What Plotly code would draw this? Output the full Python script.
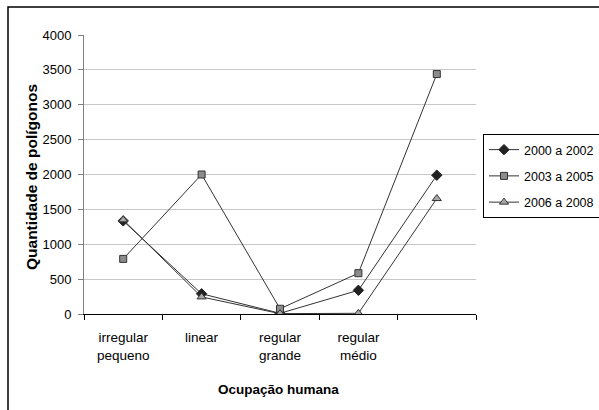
import plotly.graph_objects as go

categories = ["irregular<br>pequeno", "linear", "regular<br>grande", "regular<br>médio", " "]
series_names = ["2000 a 2002", "2003 a 2005", "2006 a 2008"]
s2000 = [1335, 290, 10, 340, 1990]
s2003 = [790, 2000, 75, 585, 3440]
s2006 = [1350, 245, 5, 10, 1655]
y_ticks = [0, 500, 1000, 1500, 2000, 2500, 3000, 3500, 4000]

FONT = "Liberation Sans, Arial, sans-serif"

fig = go.Figure()
styles = [
    dict(symbol="diamond", size=8, color="#222222", line=dict(color="#222222", width=1)),
    dict(symbol="square", size=7, color="#8c8c8c", line=dict(color="#333333", width=1)),
    dict(symbol="triangle-up", size=8, color="#a8a8a8", line=dict(color="#333333", width=1)),
]
for name, vals, st in zip(series_names, [s2000, s2003, s2006], styles):
    fig.add_trace(go.Scatter(
        x=categories, y=vals, name=name, mode="lines+markers",
        line=dict(color="#333333", width=1), marker=st, legendgroup=name,
    ))

L, R, T, B = 84, 476, 35, 314
W, H = 599, 410

def px(x):
    return (x - L) / (R - L)

def py(y):
    return (B - y) / (B - T)

fig.update_layout(
    width=W, height=H,
    margin=dict(l=L, r=W - R, t=T, b=H - B, pad=0, autoexpand=False),
    paper_bgcolor="white", plot_bgcolor="white",
    font=dict(family=FONT, size=13, color="black"),
    showlegend=True,
    legend=dict(
        x=px(483), y=py(134), xanchor="left", yanchor="top",
        bordercolor="black", borderwidth=1, bgcolor="white",
        font=dict(size=12.5), tracegroupgap=7, itemwidth=30,
    ),
    xaxis=dict(
        type="category", tickson="boundaries", ticks="outside", ticklen=5,
        tickcolor="black", showline=True, linecolor="black", linewidth=1,
        showgrid=False, range=[-0.5, 4.5], tickfont=dict(size=13.5),
        fixedrange=True, ticklabelstandoff=11,
    ),
    yaxis=dict(
        range=[0, 4000], tickvals=y_ticks, ticks="outside", ticklen=5,
        tickcolor="#808080", showline=True, linecolor="#808080", linewidth=1,
        showgrid=True, gridcolor="#c8c8c8", gridwidth=1, zeroline=False,
        tickfont=dict(size=13), fixedrange=True, ticklabelstandoff=4,
    ),
    shapes=[dict(
        type="rect", xref="paper", yref="paper",
        x0=px(8), x1=px(601), y0=py(420), y1=py(7),
        line=dict(color="black", width=1.5), fillcolor="rgba(0,0,0,0)", layer="below",
    )],
    annotations=[
        dict(text="<b>Quantidade de polígonos</b>", xref="paper", yref="paper",
             x=px(32), y=py(177), textangle=-90, showarrow=False,
             font=dict(size=15.5), xanchor="center", yanchor="middle"),
        dict(text="<b>Ocupação humana</b>", xref="paper", yref="paper",
             x=px(278), y=py(389), showarrow=False,
             font=dict(size=13.5), xanchor="center", yanchor="middle"),
    ],
)

fig.write_html(
    "out.html",
    config={"displayModeBar": False},
    post_script="document.body.style.margin='0';document.body.style.overflow='hidden';",
)
